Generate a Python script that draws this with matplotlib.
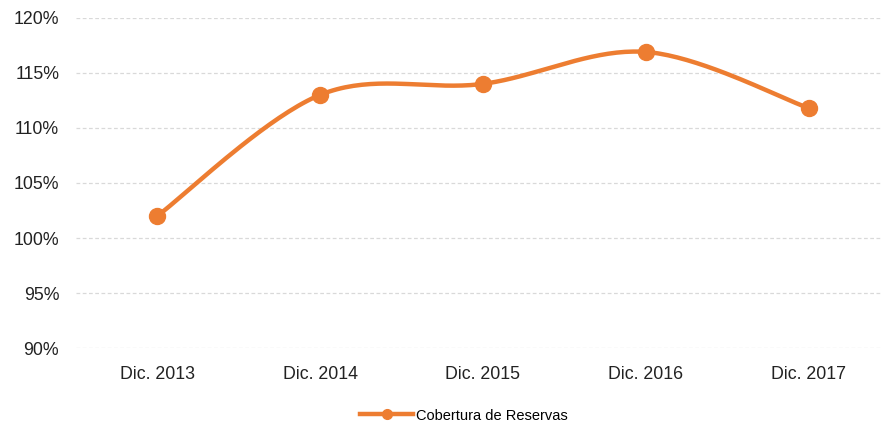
import numpy as np
import matplotlib.pyplot as plt
from matplotlib.ticker import FuncFormatter

plt.rcParams['font.family'] = ['Liberation Sans', 'DejaVu Sans']

categorias = ['Dic. 2013', 'Dic. 2014', 'Dic. 2015', 'Dic. 2016', 'Dic. 2017']
cobertura = [102.0, 113.0, 114.0, 116.9, 111.8]

naranja = '#ED7D31'


def suavizar(x, y, n=40):
    # curva Catmull-Rom entre puntos consecutivos (como la linea suavizada de Excel)
    x = np.asarray(x, float)
    y = np.asarray(y, float)
    px = np.concatenate([[x[0]], x, [x[-1]]])
    py = np.concatenate([[y[0]], y, [y[-1]]])
    xs, ys = [], []
    t = np.linspace(0, 1, n)
    for i in range(1, len(px) - 2):
        p0 = np.array([px[i], py[i]])
        p3 = np.array([px[i + 1], py[i + 1]])
        p1 = p0 + (np.array([px[i + 1], py[i + 1]]) - np.array([px[i - 1], py[i - 1]])) / 6
        p2 = p3 - (np.array([px[i + 2], py[i + 2]]) - np.array([px[i], py[i]])) / 6
        b = ((1 - t) ** 3)[:, None] * p0 + (3 * (1 - t) ** 2 * t)[:, None] * p1 \
            + (3 * (1 - t) * t ** 2)[:, None] * p2 + (t ** 3)[:, None] * p3
        xs.extend(b[:, 0])
        ys.extend(b[:, 1])
    return np.array(xs), np.array(ys)


fig = plt.figure(figsize=(8.82, 4.24), dpi=100)
ax = fig.add_axes([0.086, 0.179, 0.914, 0.779])

pos = np.arange(len(categorias))
sx, sy = suavizar(pos, cobertura)
ax.plot(sx, sy, color=naranja, linewidth=3.2, solid_capstyle='round', zorder=3)
ax.plot(pos, cobertura, 'o', color=naranja, markersize=11.5, zorder=4)

# entrada de leyenda: linea con marcador
ax.plot([], [], '-o', color=naranja, linewidth=3.2, markersize=7,
        label='Cobertura de Reservas')

ax.set_ylim(90, 120)
ax.set_yticks(np.arange(90, 121, 5))
ax.yaxis.set_major_formatter(FuncFormatter(lambda v, p: f'{v:.0f}%'))
ax.set_xlim(-0.5, 4.45)
ax.set_xticks(pos)
ax.set_xticklabels(categorias)

ax.grid(axis='y', color='#d9d9d9', linestyle=(0, (3, 2)), linewidth=0.9)
ax.set_axisbelow(True)
for s in ax.spines.values():
    s.set_visible(False)
ax.tick_params(axis='both', length=0, labelsize=12.8, colors='#222222')
ax.tick_params(axis='y', pad=12)
ax.tick_params(axis='x', pad=13)

fig.legend(loc='center', bbox_to_anchor=(0.526, 0.02), frameon=False,
           fontsize=10.5, handlelength=3.6, handletextpad=0.2)

fig.savefig('out.png', dpi=100, facecolor='white')
